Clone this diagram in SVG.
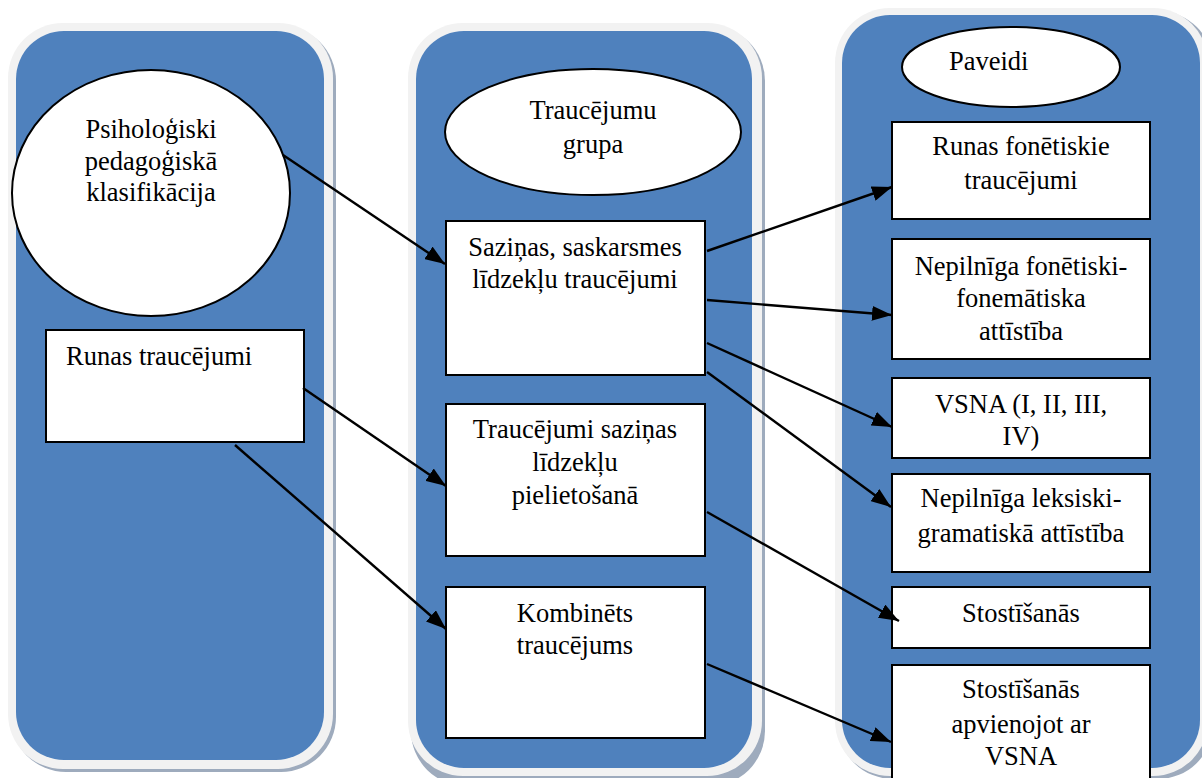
<svg xmlns="http://www.w3.org/2000/svg" width="1202" height="778" viewBox="0 0 1202 778">
<style>
.shadow{fill:#9eabbd}
.rim{fill:#f2f2f2}
.panel{fill:#4f81bd}
.box{fill:#ffffff;stroke:#000000;stroke-width:2}
.t{font-family:"Liberation Serif","Times New Roman",serif;font-size:26.5px;fill:#000000}
.c{text-anchor:middle}
.conn line{stroke:#000000;stroke-width:2.4;marker-end:url(#ah)}
</style>
<defs>
<marker id="ah" markerUnits="userSpaceOnUse" markerWidth="21" markerHeight="15" refX="20" refY="7.5" orient="auto">
<path d="M0,0 L20,7.5 L0,15 z" fill="#000000"/>
</marker>
</defs>
<rect width="1202" height="778" fill="#ffffff"/>

<g id="panel-left">
<rect class="shadow" x="11" y="26" width="325" height="746" rx="55"/>
<rect class="rim" x="8" y="23" width="325" height="746" rx="55"/>
<rect class="panel" x="16" y="31" width="308" height="729" rx="48"/>
</g>
<g id="panel-middle">
<rect class="shadow" x="411" y="26" width="354" height="760" rx="55"/>
<rect class="rim" x="408" y="23" width="354" height="753" rx="55"/>
<rect class="panel" x="416" y="31" width="336" height="737" rx="48"/>
</g>
<g id="panel-right">
<rect class="shadow" x="838" y="11" width="375" height="768" rx="55"/>
<rect class="rim" x="835" y="8" width="373" height="768" rx="55"/>
<rect class="panel" x="842" y="15" width="358" height="753" rx="48"/>
</g>

<g id="n-psiho">
<ellipse class="box" cx="151" cy="193" rx="139" ry="123"/>
<text class="t c" x="151" y="138">Psiholoģiski</text>
<text class="t c" x="151" y="170">pedagoģiskā</text>
<text class="t c" x="151" y="201">klasifikācija</text>
</g>
<g id="n-runas">
<rect class="box" x="46" y="330" width="258" height="112"/>
<text class="t" x="66" y="365">Runas traucējumi</text>
</g>

<g id="n-grupa">
<ellipse class="box" cx="593" cy="132" rx="148" ry="63"/>
<text class="t c" x="593" y="119">Traucējumu</text>
<text class="t c" x="593" y="153">grupa</text>
</g>
<g id="n-sazinas">
<rect class="box" x="446" y="221" width="259" height="154"/>
<text class="t c" x="575" y="256">Saziņas, saskarsmes</text>
<text class="t c" x="575" y="288">līdzekļu traucējumi</text>
</g>
<g id="n-pielietosana">
<rect class="box" x="446" y="404" width="259" height="152"/>
<text class="t c" x="575" y="438">Traucējumi saziņas</text>
<text class="t c" x="575" y="471">līdzekļu</text>
<text class="t c" x="575" y="504">pielietošanā</text>
</g>
<g id="n-kombinets">
<rect class="box" x="446" y="587" width="259" height="151"/>
<text class="t c" x="575" y="622">Kombinēts</text>
<text class="t c" x="575" y="654">traucējums</text>
</g>

<g id="n-paveidi">
<ellipse class="box" cx="1011" cy="67" rx="109" ry="40"/>
<text class="t" x="949" y="70">Paveidi</text>
</g>
<g id="n-fonetiskie">
<rect class="box" x="892" y="122" width="258" height="97"/>
<text class="t c" x="1021" y="155">Runas fonētiskie</text>
<text class="t c" x="1021" y="189">traucējumi</text>
</g>
<g id="n-fonematiska">
<rect class="box" x="892" y="239" width="258" height="120"/>
<text class="t c" x="1021" y="275">Nepilnīga fonētiski-</text>
<text class="t c" x="1021" y="307">fonemātiska</text>
<text class="t c" x="1021" y="340">attīstība</text>
</g>
<g id="n-vsna">
<rect class="box" x="892" y="378" width="258" height="80"/>
<text class="t c" x="1021" y="413">VSNA (I, II, III,</text>
<text class="t c" x="1021" y="445">IV)</text>
</g>
<g id="n-leksiski">
<rect class="box" x="892" y="474" width="258" height="98"/>
<text class="t c" x="1021" y="507">Nepilnīga leksiski-</text>
<text class="t c" x="1021" y="542">gramatiskā attīstība</text>
</g>
<g id="n-stostisanas">
<rect class="box" x="892" y="587" width="258" height="61"/>
<text class="t c" x="1021" y="622">Stostīšanās</text>
</g>
<g id="n-stost-vsna">
<rect class="box" x="892" y="665" width="258" height="125"/>
<text class="t c" x="1021" y="698">Stostīšanās</text>
<text class="t c" x="1021" y="733">apvienojot ar</text>
<text class="t c" x="1021" y="765">VSNA</text>
</g>

<g id="connectors" class="conn">
<line x1="283" y1="155" x2="445" y2="264"/>
<line x1="303" y1="388" x2="446" y2="486"/>
<line x1="235" y1="445" x2="446" y2="629"/>
<line x1="707" y1="251" x2="892" y2="187"/>
<line x1="707" y1="300" x2="892" y2="315"/>
<line x1="707" y1="343" x2="892" y2="427"/>
<line x1="707" y1="372" x2="891" y2="507"/>
<line x1="707" y1="512" x2="899" y2="621"/>
<line x1="707" y1="664" x2="891" y2="742"/>
</g>
</svg>
